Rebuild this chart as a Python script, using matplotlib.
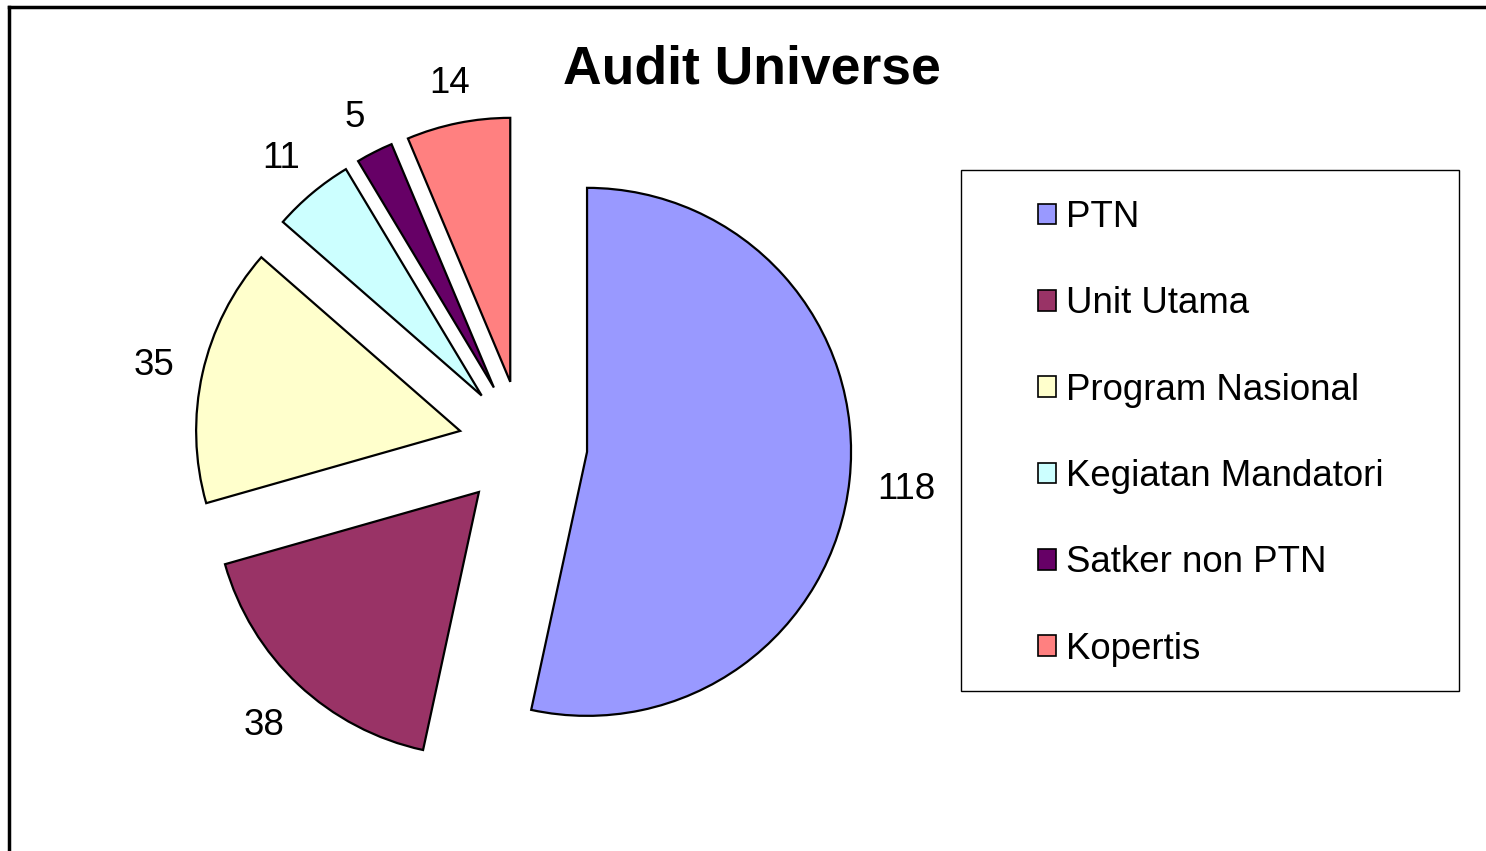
import math
import matplotlib
matplotlib.use("Agg")
import matplotlib.pyplot as plt
from matplotlib.patches import Patch, Rectangle
from matplotlib.lines import Line2D

categories = ["PTN", "Unit Utama", "Program Nasional", "Kegiatan Mandatori", "Satker non PTN", "Kopertis"]
values = [118, 38, 35, 11, 5, 14]
colors = ["#9999FF", "#993366", "#FFFFCC", "#CCFFFF", "#660066", "#FF8080"]
title = "Audit Universe"

W, H = 1486, 851
plt.rcParams['font.family'] = ['Liberation Sans', 'DejaVu Sans']
fig = plt.figure(figsize=(W / 100, H / 100), dpi=100)

# pie axes: center at (523,445) px, radius 264 px
cx, cy, R = 523, 445, 264
FS = 26.4
ax = fig.add_axes([0, 0, 1, 1])
wedges, texts = ax.pie(values, colors=colors, startangle=90, counterclock=False,
                       explode=[0.244] * len(values), labels=[str(v) for v in values],
                       labeldistance=1.2,
                       wedgeprops=dict(edgecolor="black", linewidth=1.6),
                       textprops=dict(fontsize=FS))
ax.set_aspect("auto")
ax.set_xlim(-cx / R, (W - cx) / R)
ax.set_ylim(-(H - cy) / R, cy / R)
ax.axis("off")

# place value labels just outside each wedge (box tangent to the arc, Excel-like)
fig.canvas.draw()
renderer = fig.canvas.get_renderer()
cap = 0.716 * FS * 100 / 72  # cap height in px
gap = 27.0
for w, t in zip(wedges, texts):
    th = math.radians((w.theta1 + w.theta2) / 2)
    c, s = math.cos(th), math.sin(th)
    bw = t.get_window_extent(renderer).width
    dist = w.r * R + gap + abs(c) * bw / 2 + abs(s) * cap / 2
    x = w.center[0] + c * dist / R
    y = w.center[1] + s * dist / R - (cap / 2) / R
    t.set_position((x, y))
    t.set_ha("center")
    t.set_va("baseline")

# title
fig.text(752 / W, 1 - 70 / H, title, ha="center", va="center", fontsize=38.5, fontweight="bold")

# outer frame
fig.add_artist(Line2D([9 / W, 9 / W], [0, 1 - 7 / H], color="black", linewidth=2.5,
                      transform=fig.transFigure))
fig.add_artist(Line2D([9 / W, 1], [1 - 7 / H, 1 - 7 / H], color="black", linewidth=2.5,
                      transform=fig.transFigure))

# legend box
fig.add_artist(Rectangle((961 / W, 1 - 691 / H), (1459 - 961) / W, (691 - 170) / H,
                         transform=fig.transFigure, fill=False, edgecolor="black", linewidth=1))
handles = [Patch(facecolor=c, edgecolor="black", linewidth=1.2) for c in colors]
leg = fig.legend(handles, categories, loc="upper left",
                 bbox_to_anchor=(1038 / W, 1 - 200 / H), frameon=False,
                 fontsize=FS, handlelength=0.5, handleheight=0.5, handletextpad=0.27,
                 labelspacing=1.40, borderpad=0, borderaxespad=0)

fig.savefig("out.png", dpi=100)
